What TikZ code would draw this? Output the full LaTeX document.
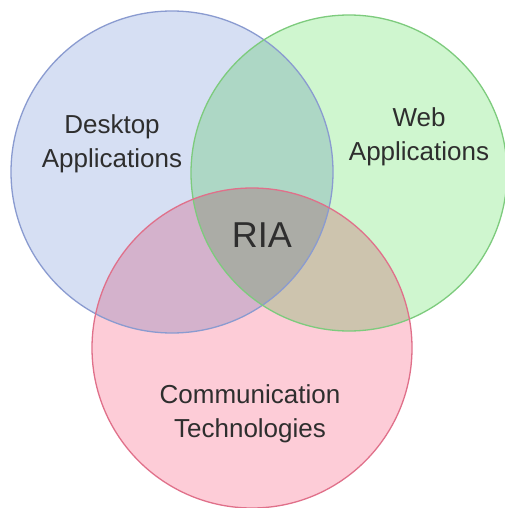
\documentclass[tikz,border=0pt]{standalone}
\usepackage{fontspec}
\setmainfont{Liberation Sans}
\definecolor{bfill}{HTML}{D6DFF3}
\definecolor{bline}{HTML}{8A9BD0}
\definecolor{gfill}{HTML}{CFF6CF}
\definecolor{gline}{HTML}{7DCB7D}
\definecolor{rfill}{HTML}{FDCCD7}
\definecolor{rline}{HTML}{E0708A}
\definecolor{txt}{HTML}{2E2E2E}
\tikzset{
  lbl/.style={text=txt, align=center, font=\fontsize{26}{34}\selectfont, inner sep=0pt},
  big/.style={text=txt, font=\fontsize{36}{40}\selectfont, inner sep=0pt},
}
\begin{document}
\begin{tikzpicture}[x=1pt,y=-1pt]
\useasboundingbox (0,0) rectangle (505,508);
\fill[white] (0,0) rectangle (505,508);
\begin{scope}
\clip (0,0) rectangle (505,508);
\begin{scope}[blend group=multiply]
\fill[bfill] (172,172) circle[radius=161pt];
\fill[gfill] (349,173) circle[radius=158pt];
\fill[rfill] (252,348) circle[radius=160pt];
\end{scope}
\draw[bline, line width=1.3pt] (172,172) circle[radius=161pt];
\draw[gline, line width=1.3pt] (349,173) circle[radius=158pt];
\draw[rline, line width=1.3pt] (252,348) circle[radius=160pt];
\end{scope}
\node[lbl, anchor=base] (desk) at (112,167) {Desktop\\Applications};
\node[lbl, anchor=base] (web) at (419,160) {Web\\Applications};
\node[lbl, anchor=base] (comm) at (250,437) {Communication\\Technologies};
\node[big, anchor=base] (ria) at (262,247) {RIA};
\end{tikzpicture}
\end{document}
